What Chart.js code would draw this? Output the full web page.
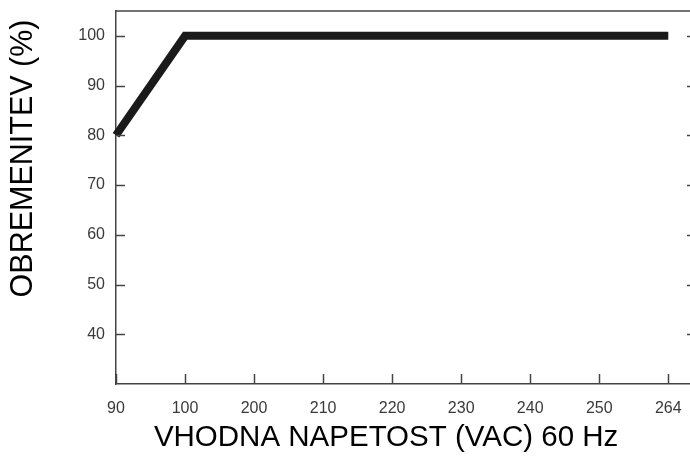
<!DOCTYPE html>
<html>
<head>
<meta charset="utf-8">
<script src="https://cdn.jsdelivr.net/npm/chart.js@4/dist/chart.umd.min.js"></script>
<style>
  html, body { margin: 0; padding: 0; background: #ffffff; }
  #wrap { width: 690px; height: 457px; }
</style>
</head>
<body>
<div id="wrap"><canvas id="c" width="690" height="457"></canvas></div>
<script>
// ---- data ----
const categories = ['90', '100', '200', '210', '220', '230', '240', '250', '264'];
const loadPercent = [80, 100, null, null, null, null, null, null, 100];
const yTickValues = [40, 50, 60, 70, 80, 90, 100];
const xTitle = 'VHODNA NAPETOST (VAC) 60 Hz';
const yTitle = 'OBREMENITEV (%)';

const points = [];
loadPercent.forEach((v, i) => { if (v !== null) points.push({ x: i, y: v }); });

const tickFont = { family: "'Liberation Sans', Arial, sans-serif", size: 16 };

const innerTicks = {
  id: 'innerTicks',
  afterDraw(chart) {
    const { ctx, chartArea: a, scales: { x, y } } = chart;
    ctx.save();
    ctx.strokeStyle = '#444';
    ctx.lineWidth = 1.5;
    // top frame line
    ctx.beginPath();
    ctx.moveTo(a.left, a.top); ctx.lineTo(690, a.top);
    ctx.stroke();
    // x ticks pointing up
    x.ticks.forEach(t => {
      const px = Math.round(x.getPixelForValue(t.value)) + 0.5;
      ctx.beginPath(); ctx.moveTo(px, a.bottom); ctx.lineTo(px, a.bottom - 10); ctx.stroke();
    });
    // y ticks pointing right, plus short marks at right edge
    y.ticks.forEach(t => {
      const py = Math.round(y.getPixelForValue(t.value)) + 0.5;
      ctx.beginPath(); ctx.moveTo(a.left, py); ctx.lineTo(a.left + 9, py); ctx.stroke();
      ctx.beginPath(); ctx.moveTo(687, py); ctx.lineTo(690, py); ctx.stroke();
    });
    ctx.restore();
  }
};

new Chart(document.getElementById('c'), {
  type: 'line',
  data: {
    datasets: [{
      data: points,
      borderColor: '#1a1a1a',
      borderWidth: 8,
      borderCapStyle: 'butt',
      borderJoinStyle: 'miter',
      pointRadius: 0,
      tension: 0,
      fill: false,
      clip: false
    }]
  },
  options: {
    responsive: false,
    animation: false,
    devicePixelRatio: 1,
    layout: { padding: { top: 11, right: 1, left: 0, bottom: 0 } },
    plugins: { legend: { display: false }, tooltip: { enabled: false } },
    scales: {
      x: {
        type: 'linear',
        min: 0,
        max: 8.3,
        afterBuildTicks: s => { s.ticks = categories.map((c, i) => ({ value: i })); },
        afterFit: s => { s.height = 73; s.paddingLeft = 0; s.paddingRight = 0; },
        ticks: {
          callback: v => categories[v] ?? '',
          font: tickFont,
          color: '#3a3a3a',
          padding: 15,
          maxRotation: 0,
          autoSkip: false
        },
        grid: { display: false, drawTicks: false },
        border: { display: true, color: '#444', width: 1.5 },
        title: {
          display: true,
          text: xTitle + '    ',
          font: { family: "'Liberation Sans', Arial, sans-serif", size: 29.5 },
          color: '#000',
          padding: { top: 0, bottom: 1 }
        }
      },
      y: {
        type: 'linear',
        min: 30,
        max: 105,
        afterBuildTicks: s => { s.ticks = yTickValues.map(v => ({ value: v })); },
        afterFit: s => { s.width = 116; s.paddingTop = 0; s.paddingBottom = 0; },
        ticks: {
          font: tickFont,
          color: '#3a3a3a',
          padding: 11
        },
        grid: { display: false, drawTicks: false },
        border: { display: true, color: '#444', width: 1.5 },
        title: {
          display: true,
          text: yTitle + ' ',
          align: 'end',
          font: { family: "'Liberation Sans', Arial, sans-serif", size: 30.5 },
          color: '#000',
          padding: { top: 5, bottom: 0 }
        }
      }
    }
  },
  plugins: [innerTicks]
});
</script>
</body>
</html>
